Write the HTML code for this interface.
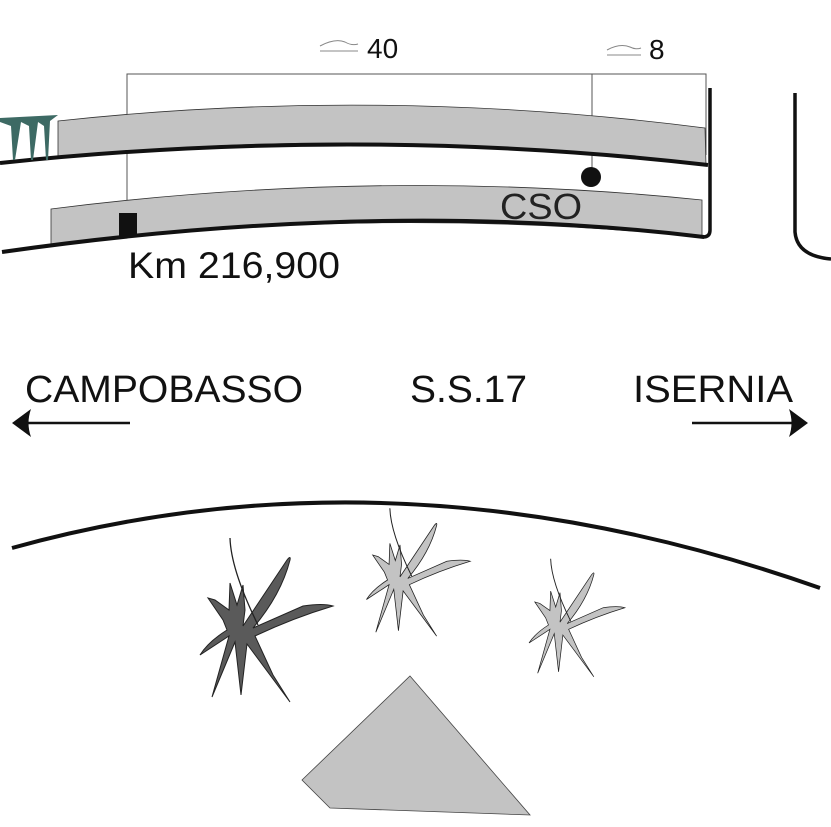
<!DOCTYPE html>
<html><head><meta charset="utf-8"><style>html,body{margin:0;padding:0;background:#fff}svg{display:block}</style></head>
<body>
<svg width="831" height="827" viewBox="0 0 831 827" xmlns="http://www.w3.org/2000/svg" font-family="Liberation Sans, Arial, sans-serif">
<defs>
<g id="plant">
<path d="M 0,-4 L 44,-70 Q 48,-75 47,-70 Q 38,-35 10,-2 L 60,-24 Q 80,-27 90,-24 Q 50,-12 12,6 L 30,45 L 47,72 L 4,14 L -2,65 L -8,12 L -31,67 L -14,6 L -43,25 Q -35,12 -16,0 L -20,-10 L -35,-32 L -28,-30 L -14,-20 L -13,-47 L -6,-25 L 0,-45 L 2,-20 Z" stroke="#222" stroke-width="1"/>
<path d="M -13,-92 Q -12,-60 15,-5" fill="none" stroke="#222" stroke-width="1.3"/>
</g>
</defs>
<path d="M127,215 V74 H706 V155 M592,74 V175" fill="none" stroke="#555" stroke-width="1"/>
<path d="M58,158 L58,121 Q380,86 705,128 L706,165 Q360,125 58,158 Z" fill="#c3c3c3" stroke="#333" stroke-width="0.8"/>
<path d="M51,244 L51,209 Q380,167 702,200 L702,237 Q380,205 51,244 Z" fill="#c3c3c3" stroke="#333" stroke-width="0.8"/>
<path d="M0,163 Q360,125 708,165" fill="none" stroke="#111" stroke-width="4"/>
<path d="M2,252 Q380,198 704,237" fill="none" stroke="#111" stroke-width="4"/>
<path d="M710,88 V230 Q710,237 703,237" fill="none" stroke="#111" stroke-width="3.5"/>
<path d="M795,93 V232 Q797,256 831,259" fill="none" stroke="#111" stroke-width="3.5"/>
<path d="M0,118 L58,115 L50,121 L48,160 L46,160 L44,126 L38,122 L33,160 L31,160 L29,126 L21,122 L15,160 L13,160 L11,126 L0,122 Z" fill="#3d6a64"/>
<rect x="119" y="213" width="18" height="24" fill="#111"/>
<circle cx="591" cy="177" r="10" fill="#111"/>
<path d="M320,46 Q335,38 345,42 Q352,46 358,44 M320,51 H358" fill="none" stroke="#888" stroke-width="1"/>
<text x="367" y="58" font-size="28" fill="#111">40</text>
<path d="M607,50 Q620,43 630,47 Q636,50 641,48 M607,55 H641" fill="none" stroke="#888" stroke-width="1"/>
<text x="649" y="59" font-size="28" fill="#111">8</text>
<text x="128" y="278" font-size="37" textLength="212" lengthAdjust="spacingAndGlyphs" fill="#111">Km 216,900</text>
<text x="500" y="219" font-size="36" textLength="82" lengthAdjust="spacingAndGlyphs" fill="#222">CSO</text>
<text x="25" y="402" font-size="38" textLength="278" lengthAdjust="spacingAndGlyphs" fill="#111">CAMPOBASSO</text>
<text x="410" y="402" font-size="38" textLength="117" lengthAdjust="spacingAndGlyphs" fill="#111">S.S.17</text>
<text x="633" y="402" font-size="38" textLength="160" lengthAdjust="spacingAndGlyphs" fill="#111">ISERNIA</text>
<line x1="130" y1="423" x2="28" y2="423" stroke="#111" stroke-width="2.5"/>
<path d="M12,423 L31,409 Q26,423 31,437 Z" fill="#111"/>
<line x1="692" y1="423" x2="792" y2="423" stroke="#111" stroke-width="2.5"/>
<path d="M808,423 L789,409 Q794,423 789,437 Z" fill="#111"/>
<path d="M12,548 Q400,440 820,588" fill="none" stroke="#111" stroke-width="4"/>
<use href="#plant" transform="translate(243,630)" fill="#5a5a5a"/>
<use href="#plant" transform="translate(400,580) scale(0.78)" fill="#c3c3c3"/>
<use href="#plant" transform="translate(560,625) scale(0.72)" fill="#c3c3c3"/>
<path d="M410,676 L530,815 L330,808 L302,780 Z" fill="#c3c3c3" stroke="#444" stroke-width="0.8"/>
</svg>
</body></html>
